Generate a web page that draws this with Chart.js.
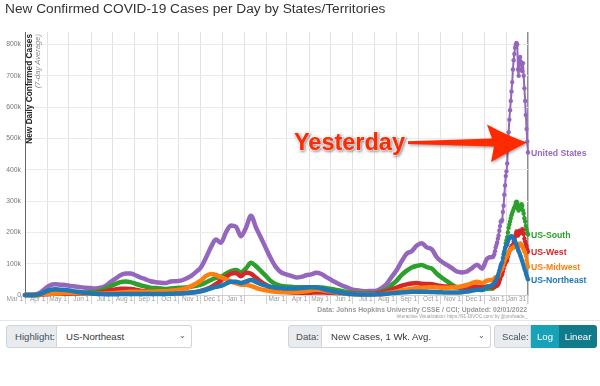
<!DOCTYPE html>
<html><head><meta charset="utf-8">
<script src="https://cdn.jsdelivr.net/npm/chart.js@4.4.1/dist/chart.umd.min.js"></script>
<style>
body{margin:0;background:#fff;font-family:"Liberation Sans",Arial,sans-serif;}
#wrap{position:relative;width:600px;height:386px;overflow:hidden;background:#fff;}
#title{position:absolute;left:5px;top:0px;font-size:13.7px;line-height:18px;color:#333;white-space:nowrap;}
#chart{position:absolute;left:0;top:0;}
#src{position:absolute;right:73px;top:306px;text-align:right;color:#9a9a9a;font-weight:bold;font-size:6.8px;line-height:8px;white-space:nowrap;}
#src2{position:absolute;right:73px;top:314px;text-align:right;color:#9a9a9a;font-size:4.6px;line-height:5px;white-space:nowrap;}
#ctrl{position:absolute;left:0;top:320px;width:600px;height:66px;border-top:1px solid #e6e6e6;}
.grp{position:absolute;top:4px;height:23px;display:flex;font-size:9.6px;color:#495057;}
.lab{background:#e9ecef;border:1px solid #ced4da;border-radius:3px 0 0 3px;display:flex;align-items:center;box-sizing:border-box;height:23px;white-space:nowrap;flex:none;}
.sel{background:#fff;border:1px solid #ced4da;border-left:none;border-radius:0 3px 3px 0;display:flex;align-items:center;box-sizing:border-box;height:23px;position:relative;color:#333;white-space:nowrap;flex:none;}
.sel .caret{position:absolute;right:5px;top:5px;font-size:8px;color:#555;}
.btn{display:flex;align-items:center;justify-content:center;color:#fff;height:23px;box-sizing:border-box;flex:none;}
</style></head>
<body>
<div id="wrap">
  <canvas id="chart" width="600" height="320"></canvas>
  <div id="title">New Confirmed COVID-19 Cases per Day by States/Territories</div>
  <div id="src">Data: Johns Hopkins University CSSE / CCI; Updated: 02/01/2022</div>
  <div id="src2">Interactive Visualization: https://91-DIVOC.com/ by @profwade_</div>
  <div id="ctrl">
    <div class="grp" style="left:6px;width:186px;">
      <div class="lab" style="width:51px;padding-left:8px;">Highlight:</div>
      <div class="sel" style="width:135px;padding-left:9px;">US-Northeast<span class="caret">&#8964;</span></div>
    </div>
    <div class="grp" style="left:288px;width:203px;">
      <div class="lab" style="width:34px;padding-left:7px;">Data:</div>
      <div class="sel" style="width:169px;padding-left:9px;">New Cases, 1 Wk. Avg.<span class="caret">&#8964;</span></div>
    </div>
    <div class="grp" style="left:494px;width:103px;">
      <div class="lab" style="width:37px;padding-left:7px;">Scale:</div>
      <div class="btn" style="width:28px;background:#17a2b8;">Log</div>
      <div class="btn" style="width:38px;background:#117a8b;border-radius:0 3px 3px 0;">Linear</div>
    </div>
  </div>
</div>
<script>
// ---- Data (values in thousands of new cases per day, 7-day average) ----
const weekStart = '2020-03-01';   // weekly values, one every 7 days
const dayStart  = '2021-12-13';   // daily values afterwards
const seriesNames  = ['United States', 'US-South', 'US-West', 'US-Midwest', 'US-Northeast'];
const seriesColors = ['#9467bd', '#2ca02c', '#d62728', '#ff7f0e', '#1f77b4'];

const usWeekly = [
  0, 0.2, 1, 7, 20, 31, 34, 33, 32, 29,
  27, 25, 23, 22, 21, 23, 29, 41, 52, 63,
  69, 69, 63, 56, 50, 44, 41, 39, 38, 43,
  44, 46, 52, 60, 73, 88, 118, 152, 177, 167,
  200, 222, 218, 188, 215, 253, 215, 182, 148, 115,
  88, 72, 66, 61, 56, 58, 63, 66, 71, 67,
  57, 48, 39, 31, 25, 18, 15, 13, 12, 13,
  14, 22, 35, 58, 80, 108, 132, 140, 158, 165,
  152, 146, 120, 106, 96, 86, 75, 72, 75, 86,
  97, 84, 116, 121];
const southWeekly = [
  0, 0, 0.2, 1.5, 4, 6, 7, 7, 7, 7,
  7, 8, 8, 9, 10, 14, 20, 28, 35, 41,
  43, 41, 36, 31, 27, 23, 22, 21, 19, 21,
  22, 23, 24, 26, 29, 33, 40, 48, 55, 58,
  68, 76, 80, 73, 85, 103, 92, 76, 60, 44,
  34, 29, 27, 26, 25, 25, 25, 25, 25, 24,
  22, 19, 16, 13, 10, 7, 6, 5, 5, 6,
  7, 11, 18, 32, 46, 64, 78, 88, 93, 96,
  89, 84, 68, 55, 44, 33, 25, 21, 19, 18,
  19, 18, 20, 21];
const westWeekly = [
  0, 0, 0.2, 1, 2.5, 3.5, 4, 4, 4, 4,
  4, 4, 4.5, 5, 6, 8, 11, 15, 18, 20,
  20, 19, 17, 14, 12, 10, 8, 7, 6, 6,
  6, 6.5, 7, 8, 10, 13, 18, 25, 35, 46,
  58, 68, 70, 60, 72, 68, 55, 42, 32, 24,
  17, 12, 10, 8, 7, 7, 7, 7.5, 8, 8,
  7.5, 7, 6.5, 6, 5, 4, 3.5, 3.5, 3.5, 4,
  5, 8, 12, 18, 24, 30, 34, 37, 38, 36,
  35, 34, 31, 28, 27, 26, 25, 25, 25, 26,
  27, 25, 27, 25];
const midwestWeekly = [
  0, 0, 0.1, 1, 3, 4, 4.5, 5, 6, 6,
  5.5, 5, 4.5, 4, 4, 4, 4.5, 5.5, 6.5, 8,
  9, 10, 10, 10, 10, 10, 11, 12, 12, 14,
  15, 17, 21, 28, 36, 46, 60, 67, 64, 57,
  50, 43, 38, 33, 33, 29, 23, 18, 15, 12,
  10, 9, 9, 9, 9, 10, 12, 15, 17, 16,
  13, 11, 8, 6, 4, 3, 2.5, 2, 2, 2,
  2.5, 3, 5, 8, 11, 15, 18, 20, 22, 23,
  24, 25, 24, 23, 23, 24, 25, 28, 32, 38,
  42, 38, 46, 48];
const northeastWeekly = [
  0, 0, 0.3, 3, 10, 16, 18, 17, 16, 14,
  11, 9, 7, 5.5, 4, 3, 2.5, 2.5, 2.5, 3,
  3, 3, 3, 3, 3, 3, 3, 3.5, 3.5, 4,
  4.5, 5, 6, 7, 9, 12, 16, 21, 26, 29,
  36, 42, 42, 38, 43, 48, 42, 35, 30, 26,
  23, 22, 21, 21, 21, 22, 24, 25, 24, 21,
  16, 13, 10, 7, 5, 3, 2, 1.5, 1.5, 1.5,
  2, 2.5, 4, 6, 7, 8, 9, 10, 10, 10,
  10, 9.5, 9, 8.5, 8, 8, 8, 9, 11, 14,
  17, 16, 26, 31];

const usDaily = [
  121, 125, 130, 140, 152, 160, 168, 180, 190, 205, 220, 235, 235, 240, 265, 285, 320, 350, 380,
  395, 420, 480, 520, 560, 590, 620, 650, 680, 720, 750, 770, 790, 800, 805, 800,
  720, 700, 750, 760, 745, 720, 715, 740, 700, 660, 620, 575, 530, 490, 455];
const southDaily = [
  21, 23, 25, 28, 31, 34, 37, 42, 48, 55, 65, 75, 80, 85, 100, 115, 135, 150, 165,
  175, 185, 200, 215, 225, 235, 245, 255, 262, 268, 275, 280, 285, 295, 298, 295,
  275, 270, 285, 280, 275, 290, 285, 270, 260, 245, 235, 220, 210, 200, 193];
const westDaily = [
  25, 25, 26, 27, 28, 29, 30, 33, 36, 42, 50, 58, 62, 66, 75, 85, 95, 100, 105,
  108, 112, 122, 132, 140, 145, 150, 155, 158, 160, 170, 180, 185, 195, 203, 200,
  190, 195, 205, 200, 198, 205, 210, 208, 195, 180, 170, 162, 155, 145, 138];
const midwestDaily = [
  48, 50, 52, 55, 56, 57, 58, 60, 63, 68, 75, 80, 82, 84, 92, 100, 108, 115, 120,
  122, 125, 130, 135, 140, 143, 146, 148, 150, 150, 152, 155, 155, 158, 160, 158,
  150, 155, 162, 165, 163, 160, 155, 150, 145, 140, 135, 125, 112, 100, 90];
const northeastDaily = [
  33, 35, 38, 42, 46, 50, 55, 62, 70, 78, 86, 95, 100, 105, 118, 130, 140, 148, 155,
  158, 162, 170, 178, 182, 185, 187, 188, 186, 183, 180, 176, 172, 166, 160, 153,
  145, 140, 135, 128, 122, 115, 108, 100, 93, 85, 78, 70, 63, 56, 50];

const yTicks = [0, 100, 200, 300, 400, 500, 600, 700, 800];
const tickDates = ['2020-03-01','2020-04-01','2020-05-01','2020-06-01','2020-07-01','2020-08-01',
  '2020-09-01','2020-10-01','2020-11-01','2020-12-01','2021-01-01','2021-02-01','2021-03-01',
  '2021-04-01','2021-05-01','2021-06-01','2021-07-01','2021-08-01','2021-09-01','2021-10-01',
  '2021-11-01','2021-12-01','2022-01-01','2022-01-31'];
const tickLabels = ['Mar 1','Apr 1','May 1','Jun 1','Jul 1','Aug 1','Sep 1','Oct 1','Nov 1','Dec 1',
  'Jan 1','','Mar 1','Apr 1','May 1','Jun 1','Jul 1','Aug 1','Sep 1','Oct 1','Nov 1','Dec 1',
  'Jan 1','Jan 31'];

// ---- helpers ----
const DAY = 86400000;
const dayIndex = s => Math.round((Date.parse(s + 'T00:00:00Z') - Date.parse(weekStart + 'T00:00:00Z')) / DAY);
const d0 = dayIndex(dayStart);
function buildPoints(weekly, daily) {
  const pts = weekly.map((v, i) => ({x: i * 7, y: v, daily: false}));
  daily.forEach((v, i) => pts.push({x: d0 + i, y: v, daily: true}));
  return pts;
}
const weeklySets = [usWeekly, southWeekly, westWeekly, midwestWeekly, northeastWeekly];
const dailySets  = [usDaily, southDaily, westDaily, midwestDaily, northeastDaily];
const drawOrder  = [4, 3, 2, 1, 0];
const tickDays = tickDates.map(dayIndex);
const lastDay = tickDays[tickDays.length - 1];
const FONT = '"Liberation Sans", Arial, sans-serif';

const datasets = seriesNames.map((name, i) => ({
  label: name,
  data: buildPoints(weeklySets[i], dailySets[i]),
  borderColor: seriesColors[i],
  backgroundColor: seriesColors[i],
  pointBackgroundColor: seriesColors[i],
  pointBorderWidth: 0,
  pointRadius: c => (c.raw && c.raw.daily) ? 2.2 : 0,
  borderWidth: 4.5,
  segment: { borderWidth: c => (c.p1.parsed.x - c.p0.parsed.x > 1.5) ? 4.5 : 2 },
  borderJoinStyle: 'round',
  borderCapStyle: 'round',
  cubicInterpolationMode: 'monotone',
  order: drawOrder[i],
  clip: 8,
  fill: false
}));

const endLabels = {
  id: 'endLabels',
  afterDatasetsDraw(chart) {
    const ctx = chart.ctx;
    const items = chart.data.datasets.map((ds, i) => {
      const meta = chart.getDatasetMeta(i);
      const el = meta.data[meta.data.length - 1];
      return {x: el.x, y: el.y, text: ds.label, color: ds.borderColor};
    }).sort((a, b) => a.y - b.y);
    for (let i = 1; i < items.length; i++) if (items[i].y - items[i-1].y < 12) items[i].y = items[i-1].y + 12;
    ctx.save();
    ctx.font = 'bold 8.7px ' + FONT;
    ctx.textBaseline = 'middle';
    ctx.textAlign = 'left';
    items.forEach(it => { ctx.fillStyle = it.color; ctx.fillText(it.text, it.x + 3, it.y + 1); });
    ctx.restore();
  }
};

const annotations = {
  id: 'annotations',
  afterDraw(chart) {
    const ctx = chart.ctx, area = chart.chartArea;
    // axis title
    ctx.save();
    ctx.translate(29.5, area.top + 2);
    ctx.rotate(-Math.PI / 2);
    ctx.textAlign = 'right'; ctx.textBaseline = 'middle';
    ctx.fillStyle = '#222'; ctx.font = 'bold 8.3px ' + FONT;
    ctx.fillText('New Daily Confirmed Cases', 0, 0);
    ctx.fillStyle = '#8a8a8a'; ctx.font = 'italic 7.6px ' + FONT;
    ctx.fillText('(7-day Average)', 0, 8);
    ctx.restore();
    // "Yesterday" arrow pointing at the last US value
    const meta = chart.getDatasetMeta(0);
    const last = meta.data[meta.data.length - 1];
    const tx = last.x - 1, ty = last.y - 10;
    ctx.save();
    ctx.shadowColor = 'rgba(0,0,0,0.35)'; ctx.shadowBlur = 3; ctx.shadowOffsetX = 1; ctx.shadowOffsetY = 1.5;
    ctx.fillStyle = '#ff2a00';
    ctx.beginPath();
    ctx.moveTo(tx - 119, ty - 1.4);
    ctx.lineTo(tx - 35, ty - 4);
    ctx.lineTo(tx - 40, ty - 18);
    ctx.quadraticCurveTo(tx - 18, ty - 6, tx, ty);
    ctx.quadraticCurveTo(tx - 16, ty + 8, tx - 36, ty + 19.5);
    ctx.lineTo(tx - 33, ty + 4);
    ctx.lineTo(tx - 119, ty + 1.4);
    ctx.closePath();
    ctx.fill();
    ctx.font = 'bold 23.5px ' + FONT;
    ctx.textAlign = 'right'; ctx.textBaseline = 'alphabetic';
    ctx.lineWidth = 2; ctx.strokeStyle = 'rgba(255,255,255,0.9)';
    ctx.strokeText('Yesterday', tx - 122, ty + 7);
    ctx.fillText('Yesterday', tx - 122, ty + 7);
    ctx.restore();
  }
};

new Chart(document.getElementById('chart'), {
  type: 'line',
  data: { datasets },
  options: {
    responsive: false,
    animation: false,
    devicePixelRatio: 1,
    layout: { padding: { top: 32, right: 72, left: 0, bottom: 0 } },
    plugins: { legend: { display: false }, tooltip: { enabled: false } },
    scales: {
      x: {
        type: 'linear', min: 0, max: lastDay,
        afterBuildTicks: s => { s.ticks = tickDays.map(v => ({value: v})); },
        afterFit: s => { s.height = 25; },
        grid: {
          color: c => (c.tick && c.tick.value === lastDay) ? '#8c8c8c' : '#e2e2e2',
          lineWidth: c => (c.tick && c.tick.value === lastDay) ? 1.5 : 1,
          tickLength: 9, tickColor: '#d0d0d0'
        },
        border: { display: true, color: '#cfcfcf' },
        ticks: {
          autoSkip: false, maxRotation: 0, align: 'end', padding: -9,
          color: '#999', font: { size: 6.5, family: FONT },
          callback: (v) => { const k = tickDays.indexOf(v); return k >= 0 && tickLabels[k] ? tickLabels[k] + ' ' : ''; }
        }
      },
      y: {
        min: 0, max: 840,
        afterBuildTicks: s => { s.ticks = yTicks.map(v => ({value: v})); },
        afterFit: s => { s.width = 25; },
        grid: { color: '#ebebeb', drawTicks: false },
        border: { display: true, color: '#666', width: 1 },
        ticks: {
          padding: 4, color: '#777', font: { size: 6.8, family: FONT },
          callback: v => v === 0 ? '0' : v + 'k'
        }
      }
    }
  },
  plugins: [endLabels, annotations]
});
</script>
</body></html>
